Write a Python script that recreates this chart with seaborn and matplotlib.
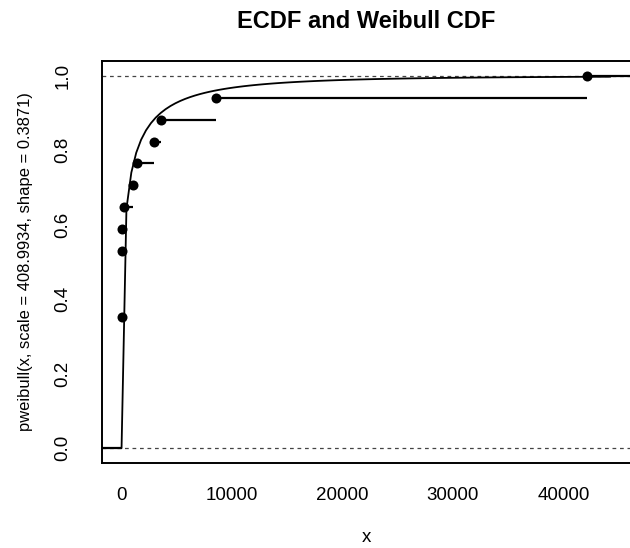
import numpy as np
import pandas as pd
import matplotlib
matplotlib.use("Agg")
import matplotlib.pyplot as plt
import seaborn as sns

# ---- data ----
knots = [20, 50, 80, 230, 1010, 1380, 2940, 3550, 8520, 42100]
ecdf_values = [6/17, 9/17, 10/17, 11/17, 12/17, 13/17, 14/17, 15/17, 16/17, 17/17]
weibull_scale = 408.9934
weibull_shape = 0.3871
curve_from, curve_to, curve_n = 0, 44250, 101

xticks = [0, 10000, 20000, 30000, 40000]
yticks = [0.0, 0.2, 0.4, 0.6, 0.8, 1.0]
ytick_labels = ["0.0", "0.2", "0.4", "0.6", "0.8", "1.0"]
title = "ECDF and Weibull CDF"
ylabel = "pweibull(x, scale = 408.9934, shape = 0.3871)"
xlabel = "x"

# theoretical Weibull CDF sampled like R's curve()
cx = np.linspace(curve_from, curve_to, curve_n)
cy = 1 - np.exp(-(cx / weibull_scale) ** weibull_shape)
curve_df = pd.DataFrame({"x": cx, "y": cy})
ecdf_df = pd.DataFrame({"x": knots, "y": ecdf_values})

sns.set_style("white")
plt.rcParams["font.family"] = ["Liberation Sans", "DejaVu Sans"]
plt.rcParams["text.color"] = "black"
plt.rcParams["axes.labelcolor"] = "black"

fig = plt.figure(figsize=(6.3, 5.48), dpi=100)
ax_l, ax_r, ax_t, ax_b = 102, 630, 61, 463
ax = fig.add_axes([ax_l/630, 1 - ax_b/548, (ax_r-ax_l)/630, (ax_b-ax_t)/548])

span = curve_to - curve_from
xlim = (curve_from - 0.04*span, curve_to + 0.04*span)
ax.set_xlim(*xlim)
ax.set_ylim(-0.04, 1.04)

# reference lines at 0 and 1
for h in (0, 1):
    ax.axhline(h, color="#444444", lw=0.9, ls=(0, (3, 3)), zorder=1)

# Weibull curve
sns.lineplot(data=curve_df, x="x", y="y", color="black", lw=1.3, ax=ax,
             estimator=None, sort=False, zorder=3)

# ECDF step segments (no verticals)
seg_left = [xlim[0]] + knots
seg_right = knots + [xlim[1]]
seg_y = [0] + ecdf_values
ax.hlines(seg_y, seg_left, seg_right, color="black", lw=1.6, zorder=3)

# ECDF points
sns.scatterplot(data=ecdf_df, x="x", y="y", color="black", s=52,
                edgecolor="black", linewidth=0, ax=ax, zorder=4)

ax.set_xticks(xticks)
ax.set_xticklabels([str(t) for t in xticks])
ax.set_yticks(yticks)
ax.set_yticklabels(ytick_labels, rotation=90, va="center")
ax.tick_params(axis="both", direction="out", length=7, width=1.2, colors="black",
               labelsize=13.5)
ax.tick_params(axis="x", pad=10)
ax.tick_params(axis="y", pad=15)

for name, s in ax.spines.items():
    s.set_visible(name != "right")
    s.set_color("black")
    s.set_linewidth(1.4)

ax.set_xlabel(xlabel, fontsize=13.5, color="black")
ax.set_ylabel(ylabel, fontsize=11.9, color="black")
ax.xaxis.set_label_coords(0.5, (ax_b-538)/(ax_b-ax_t))
ax.yaxis.set_label_coords((26-ax_l)/(ax_r-ax_l), 0.5)
ax.xaxis.label.set_va("center")
ax.yaxis.label.set_va("center")

ax.text(0.5, 1 + 40/(ax_b-ax_t), title, transform=ax.transAxes, ha="center",
        va="center", fontsize=17, fontweight="bold", color="black")

fig.savefig("out.png", dpi=100)
